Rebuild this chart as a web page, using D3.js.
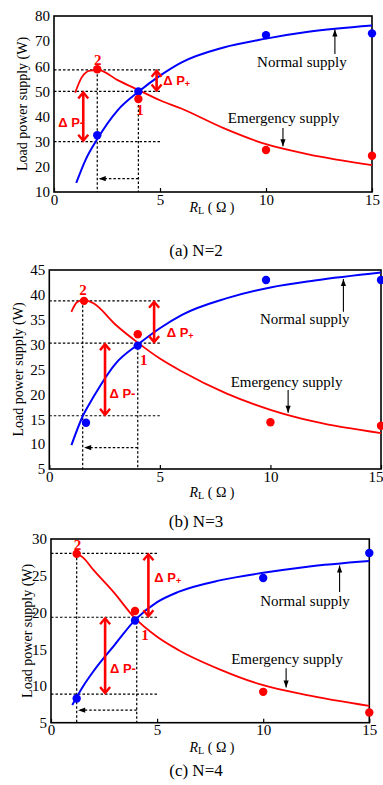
<!DOCTYPE html>
<html>
<head>
<meta charset="utf-8">
<script src="https://cdn.jsdelivr.net/npm/d3@7"></script>
<style>
  body { margin: 0; background: #fff; }
  svg text { font-family: "Liberation Serif", "Times New Roman", serif; }
  .tick text { font-size: 15px; fill: #000; }
  .dash { stroke: #000; stroke-width: 1.2; stroke-dasharray: 2.5, 2; fill: none; }
  .red-lab { font-family: "Liberation Sans", Arial, sans-serif; font-weight: bold; fill: #f00; font-size: 13px; }
</style>
</head>
<body>
<svg width="383" height="785"></svg>
<script>
// shared x axis
var xTicks = [0, 5, 10, 15];

// (a) N=2
var yTicksA = [10, 20, 30, 40, 50, 60, 70, 80];
var normalCurveA = [[1.05, 13.6], [1.5, 23], [2, 30.5], [3, 42.5], [4, 50], [5, 56.3], [6, 61.5], [8, 67.5], [10, 71], [12, 73.7], [15, 76.2]];
var emergCurveA = [[1.0, 49.5], [1.3, 55.5], [1.7, 58.3], [2.1, 58.5], [3, 54.5], [4, 50.5], [5, 46.5], [6, 43.2], [8, 35.4], [10, 29], [12, 25], [15, 20.7]];
var normalDotsA = [[2.04, 32.6], [3.98, 50], [10, 72.4], [15, 73.1]];
var emergDotsA = [[2.04, 58.8], [3.98, 47], [10, 26.7], [15, 24.4]];

// (b) N=3
var yTicksB = [5, 10, 15, 20, 25, 30, 35, 40, 45];
var normalCurveB = [[1.0, 9.8], [1.5, 15.5], [2, 19.5], [3, 26.2], [4, 30], [5, 33.3], [6, 36], [8, 39.3], [10, 41.5], [12, 42.9], [15, 44.5]];
var emergCurveB = [[1.0, 36.6], [1.25, 38.5], [1.55, 39], [2, 38.3], [3, 34], [4, 30.4], [5, 27.2], [6, 24.6], [8, 20.2], [10, 16.9], [12, 14.5], [15, 12.2]];
var normalDotsB = [[1.66, 14.3], [4, 29.8], [9.8, 43], [15, 43]];
var emergDotsB = [[1.57, 38.8], [4, 32.1], [10, 14.4], [15, 13.7]];

// (c) N=4
var yTicksC = [5, 10, 15, 20, 25, 30];
var normalCurveC = [[1, 7.4], [1.5, 9.9], [2, 12], [3, 15.6], [4, 19.1], [5, 21.4], [6, 22.8], [8, 24.4], [10, 25.4], [12, 26.2], [15, 27]];
var emergCurveC = [[1.15, 28.1], [1.5, 27.5], [2, 25.8], [3, 22.6], [3.9, 19.4], [5, 16.7], [6, 14.9], [8, 12.2], [10, 10.1], [12, 8.8], [15, 7.3]];
var normalDotsC = [[1.21, 8.3], [3.96, 18.9], [10, 24.7], [15, 28.1]];
var emergDotsC = [[1.21, 28], [3.96, 20.2], [10, 9.2], [15, 6.4]];

var panels = [
  { caption: "(a) N=2", box: { l: 54, r: 372, t: 16, b: 192 }, yDom: [10, 80], yTicks: yTicksA,
    normal: normalCurveA, emerg: emergCurveA, nDots: normalDotsA, eDots: emergDotsA,
    op2: [2.04, 58.6], op1: [3.98, 50], low: 30, shiftY: 15.3, dPlusX: 4.84, dMinusX: 1.38,
    normalTxt: [9.58, 59.7], normalArr: [13.25, 64.9, 74.6], emergTxt: [8.2, 37.4], emergArr: [10.8, 35.5, 28.2],
    lab2: [2.06, 60.6], lab1: [4.06, 40.6], dPlusTxt: [5.15, 52.6], dMinusTxt: [0.2, 35.9],
    yLabelX: 22, xLabelY: 212, captionY: 256 },
  { caption: "(b) N=3", box: { l: 49.3, r: 381, t: 270, b: 469 }, yDom: [5, 45], yTicks: yTicksB,
    normal: normalCurveB, emerg: emergCurveB, nDots: normalDotsB, eDots: emergDotsB,
    op2: [1.51, 38.8], op1: [4, 30.3], low: 15.7, shiftY: 9.3, dPlusX: 4.74, dMinusX: 2.52,
    normalTxt: [9.53, 34.1], normalArr: [13.3, 36.6, 43.2], emergTxt: [8.2, 21.5], emergArr: [10.8, 20.9, 16.3],
    lab2: [1.52, 40], lab1: [4.27, 25.9], dPlusTxt: [5.31, 31.5], dMinusTxt: [2.72, 19.3],
    yLabelX: 18, xLabelY: 497, captionY: 527 },
  { caption: "(c) N=4", box: { l: 51, r: 369.3, t: 539, b: 722.7 }, yDom: [5, 30], yTicks: yTicksC,
    normal: normalCurveC, emerg: emergCurveC, nDots: normalDotsC, eDots: emergDotsC,
    op2: [1.21, 28.05], op1: [4.04, 19.35], low: 8.9, shiftY: 6.7, dPlusX: 4.59, dMinusX: 2.55,
    normalTxt: [9.86, 20.9], normalArr: [13.6, 22.8, 26.4], emergTxt: [8.49, 13.0], emergArr: [11.08, 12.4, 9.8],
    lab2: [1.25, 28.5], lab1: [4.43, 16.3], dPlusTxt: [4.87, 24.2], dMinusTxt: [2.78, 11.7],
    yLabelX: 27, xLabelY: 752, captionY: 776 }
];

var svg = d3.select("svg");
var defs = svg.append("defs");

defs.append("marker")
  .attr("id", "chev")
  .attr("markerUnits", "userSpaceOnUse")
  .attr("viewBox", "-9 -7 11 14")
  .attr("markerWidth", 11).attr("markerHeight", 14)
  .attr("refX", 0).attr("refY", 0)
  .attr("orient", "auto-start-reverse")
  .append("path")
  .attr("d", "M-6,-5L0,0L-6,5")
  .attr("fill", "none").attr("stroke", "#f00").attr("stroke-width", 2.4);

defs.append("marker")
  .attr("id", "tri")
  .attr("markerUnits", "userSpaceOnUse")
  .attr("viewBox", "-8 -4 9 8")
  .attr("markerWidth", 9).attr("markerHeight", 8)
  .attr("refX", 0).attr("refY", 0)
  .attr("orient", "auto")
  .append("path")
  .attr("d", "M-7,-2.6L0,0L-7,2.6Z")
  .attr("fill", "#000");

panels.forEach(function(p) {
  var x = d3.scaleLinear().domain([0, 15]).range([p.box.l, p.box.r]);
  var y = d3.scaleLinear().domain(p.yDom).range([p.box.b, p.box.t]);
  var g = svg.append("g");

  // axes
  g.append("g")
    .attr("transform", "translate(0," + p.box.b + ")")
    .call(d3.axisBottom(x).tickValues(xTicks).tickSize(-4).tickSizeOuter(0).tickPadding(2))
    .call(function(a) {
      a.select(".domain").remove();
      a.selectAll("line").attr("stroke-width", 1.2);
      // keep the last label inside the page when the frame reaches the edge
      if (p.box.r > 376) {
        a.selectAll(".tick text").filter(function(d) { return d === 15; })
          .attr("text-anchor", "end").attr("x", 2);
      }
    });

  g.append("g")
    .attr("transform", "translate(" + p.box.l + ",0)")
    .call(d3.axisLeft(y).tickValues(p.yTicks).tickSize(0).tickPadding(4))
    .call(function(a) { a.select(".domain").remove(); });

  g.append("rect")
    .attr("x", p.box.l).attr("y", p.box.t)
    .attr("width", p.box.r - p.box.l).attr("height", p.box.b - p.box.t)
    .attr("fill", "none").attr("stroke", "#000").attr("stroke-width", 1.6);

  // dotted guides
  var ymin = p.yDom[0];
  [p.op2[1], p.op1[1], p.low].forEach(function(v) {
    g.append("line").attr("class", "dash")
      .attr("x1", x(0)).attr("x2", x(5)).attr("y1", y(v)).attr("y2", y(v));
  });
  [p.op2, p.op1].forEach(function(pt) {
    g.append("line").attr("class", "dash")
      .attr("x1", x(pt[0])).attr("x2", x(pt[0])).attr("y1", y(pt[1])).attr("y2", y(ymin));
  });
  g.append("line").attr("class", "dash")
    .attr("x1", x(p.op1[0])).attr("x2", x(p.op2[0]) + 1.5)
    .attr("y1", y(p.shiftY)).attr("y2", y(p.shiftY))
    .attr("marker-end", "url(#tri)");

  // curves
  var line = d3.line().x(function(d) { return x(d[0]); }).y(function(d) { return y(d[1]); })
    .curve(d3.curveMonotoneX);
  g.append("path").datum(p.normal).attr("d", line)
    .attr("fill", "none").attr("stroke", "#0000ff").attr("stroke-width", 2);
  g.append("path").datum(p.emerg).attr("d", line)
    .attr("fill", "none").attr("stroke", "#ff0000").attr("stroke-width", 1.8);

  // dots
  g.selectAll(".nd").data(p.nDots).enter().append("circle")
    .attr("cx", function(d) { return x(d[0]); }).attr("cy", function(d) { return y(d[1]); })
    .attr("r", 4.2).attr("fill", "#0000ff");
  g.selectAll(".ed").data(p.eDots).enter().append("circle")
    .attr("cx", function(d) { return x(d[0]); }).attr("cy", function(d) { return y(d[1]); })
    .attr("r", 4.2).attr("fill", "#ff0000");

  // delta P double arrows
  [[p.dPlusX, p.op2[1], p.op1[1]], [p.dMinusX, p.op1[1], p.low]].forEach(function(a) {
    g.append("line")
      .attr("x1", x(a[0])).attr("x2", x(a[0]))
      .attr("y1", y(a[1]) + 1).attr("y2", y(a[2]) - 1)
      .attr("stroke", "#f00").attr("stroke-width", 2.6)
      .attr("marker-start", "url(#chev)").attr("marker-end", "url(#chev)");
  });

  var tp = g.append("text").attr("class", "red-lab")
    .attr("x", x(p.dPlusTxt[0])).attr("y", y(p.dPlusTxt[1]));
  tp.append("tspan").text("Δ P");
  tp.append("tspan").attr("font-size", "9px").attr("dy", 2).text("+");

  g.append("text").attr("class", "red-lab")
    .attr("x", x(p.dMinusTxt[0])).attr("y", y(p.dMinusTxt[1]))
    .text("Δ P-");

  g.append("text").attr("x", x(p.lab2[0])).attr("y", y(p.lab2[1]))
    .attr("text-anchor", "middle").attr("font-weight", "bold").attr("font-size", 15).attr("fill", "#f00")
    .text("2");
  g.append("text").attr("x", x(p.lab1[0])).attr("y", y(p.lab1[1]))
    .attr("text-anchor", "middle").attr("font-weight", "bold").attr("font-size", 15).attr("fill", "#f00")
    .text("1");

  // series labels
  g.append("text").attr("x", x(p.normalTxt[0])).attr("y", y(p.normalTxt[1]))
    .attr("font-size", 15).text("Normal supply");
  g.append("line")
    .attr("x1", x(p.normalArr[0])).attr("x2", x(p.normalArr[0]))
    .attr("y1", y(p.normalArr[1])).attr("y2", y(p.normalArr[2]))
    .attr("stroke", "#000").attr("stroke-width", 1.1).attr("marker-end", "url(#tri)");
  g.append("text").attr("x", x(p.emergTxt[0])).attr("y", y(p.emergTxt[1]))
    .attr("font-size", 15).text("Emergency supply");
  g.append("line")
    .attr("x1", x(p.emergArr[0])).attr("x2", x(p.emergArr[0]))
    .attr("y1", y(p.emergArr[1])).attr("y2", y(p.emergArr[2]))
    .attr("stroke", "#000").attr("stroke-width", 1.1).attr("marker-end", "url(#tri)");

  // axis titles
  var cy = (p.box.t + p.box.b) / 2;
  g.append("text")
    .attr("transform", "translate(" + p.yLabelX + "," + cy + ") rotate(-90)")
    .attr("text-anchor", "middle").attr("dy", "0.35em").attr("font-size", 14)
    .text("Load power supply (W)");

  var xl = g.append("text").attr("x", 212).attr("y", p.xLabelY)
    .attr("text-anchor", "middle").attr("font-size", 14);
  xl.append("tspan").attr("font-style", "italic").text("R");
  xl.append("tspan").attr("font-size", 10).attr("dy", 2).text("L");
  xl.append("tspan").attr("dy", -2).text(" ( Ω )");

  g.append("text").attr("x", 196).attr("y", p.captionY)
    .attr("text-anchor", "middle").attr("font-size", 17)
    .text(p.caption);
});
</script>
</body>
</html>
